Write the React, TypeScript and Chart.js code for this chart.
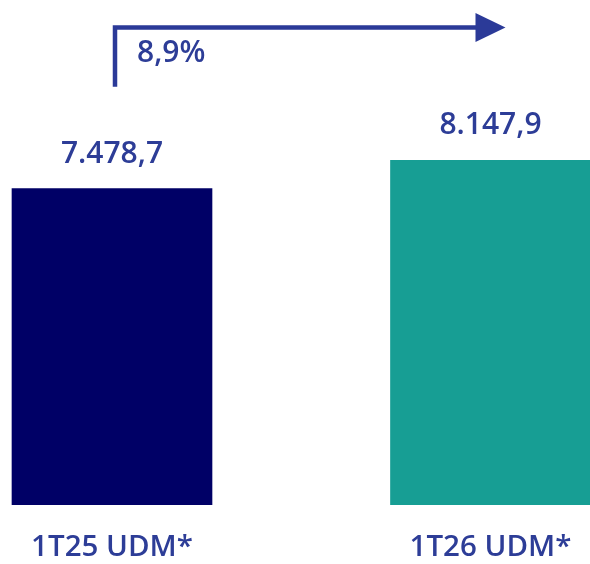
import { useEffect, useRef } from "react";
import { Chart, registerables } from "chart.js";

Chart.register(...registerables);

const categories = ["1T25 UDM*", "1T26 UDM*"];
const values = [7478.7, 8147.9];
const barColors = ["#000066", "#179e94"];
const textColor = "#2d3d97";
const arrowColor = "#2b3a98";

const fmt = (v: number) =>
  v.toLocaleString("de-DE", { minimumFractionDigits: 1, maximumFractionDigits: 1 });

const growth = (values[1] / values[0] - 1) * 100;
const growthLabel = fmt(growth) + "%";

const annotPlugin = {
  id: "annot",
  afterDatasetsDraw(chart: any) {
    const ctx = chart.ctx;
    const bars = chart.getDatasetMeta(0).data;
    const b0 = bars[0];
    const b1 = bars[1];
    ctx.save();
    ctx.fillStyle = textColor;
    ctx.font = "600 30px 'Open Sans'";
    ctx.textAlign = "center";
    ctx.textBaseline = "alphabetic";
    bars.forEach((b: any, i: number) => {
      ctx.fillText(fmt(values[i]), b.x, b.y - 26);
    });
    const lineX = b0.x + 3;
    const bottomY = b0.y - 102;
    const lineY = b1.y - 133;
    const tipX = b1.x + 15;
    const headBase = tipX - 30;
    ctx.strokeStyle = arrowColor;
    ctx.lineWidth = 4.5;
    ctx.lineJoin = "miter";
    ctx.lineCap = "butt";
    ctx.beginPath();
    ctx.moveTo(lineX, bottomY);
    ctx.lineTo(lineX, lineY);
    ctx.lineTo(headBase + 1, lineY);
    ctx.stroke();
    ctx.fillStyle = arrowColor;
    ctx.beginPath();
    ctx.moveTo(headBase, lineY - 14.5);
    ctx.lineTo(tipX, lineY);
    ctx.lineTo(headBase, lineY + 14.5);
    ctx.closePath();
    ctx.fill();
    ctx.fillStyle = textColor;
    ctx.font = "600 30px 'Open Sans'";
    ctx.textAlign = "left";
    ctx.fillText(growthLabel, lineX + 22, lineY + 35);
    ctx.restore();
  },
};

export default function App() {
  const ref = useRef<HTMLCanvasElement | null>(null);
  useEffect(() => {
    if (!ref.current) return;
    document.body.style.margin = "0";
    document.body.style.overflow = "hidden";
    const chart = new Chart(ref.current, {
      type: "bar",
      data: {
        datasets: [
          {
            data: values.map((v, i) => ({ x: i, y: v })),
            backgroundColor: barColors,
            borderWidth: 0,
            barThickness: 200,
          },
        ],
      },
      options: {
        animation: false,
        responsive: false,
        devicePixelRatio: 1,
        layout: { padding: 0 },
        plugins: { legend: { display: false }, tooltip: { enabled: false } },
        scales: {
          x: {
            type: "linear",
            min: -0.2959,
            max: 1.2629,
            offset: false,
            grid: { display: false, drawTicks: false },
            border: { display: false },
            afterBuildTicks: (axis: any) => {
              axis.ticks = categories.map((_, i) => ({ value: i }));
            },
            afterFit: (axis: any) => {
              axis.height = 59;
              axis.paddingLeft = 0;
              axis.paddingRight = 0;
            },
            ticks: {
              padding: 28,
              color: textColor,
              font: { family: "'Open Sans'", size: 29.5, weight: "600", lineHeight: 1 },
              callback: (v: any) => categories[v as number] ?? "",
              autoSkip: false,
              maxRotation: 0,
            },
          },
          y: {
            display: false,
            min: 0,
            max: 11940,
          },
        },
      },
      plugins: [annotPlugin],
    });
    return () => chart.destroy();
  }, []);
  return (
    <div style={{ position: "absolute", left: 0, top: 0, width: 590, height: 564 }}>
      <canvas ref={ref} width={590} height={564} style={{ display: "block", width: 590, height: 564 }} />
    </div>
  );
}
